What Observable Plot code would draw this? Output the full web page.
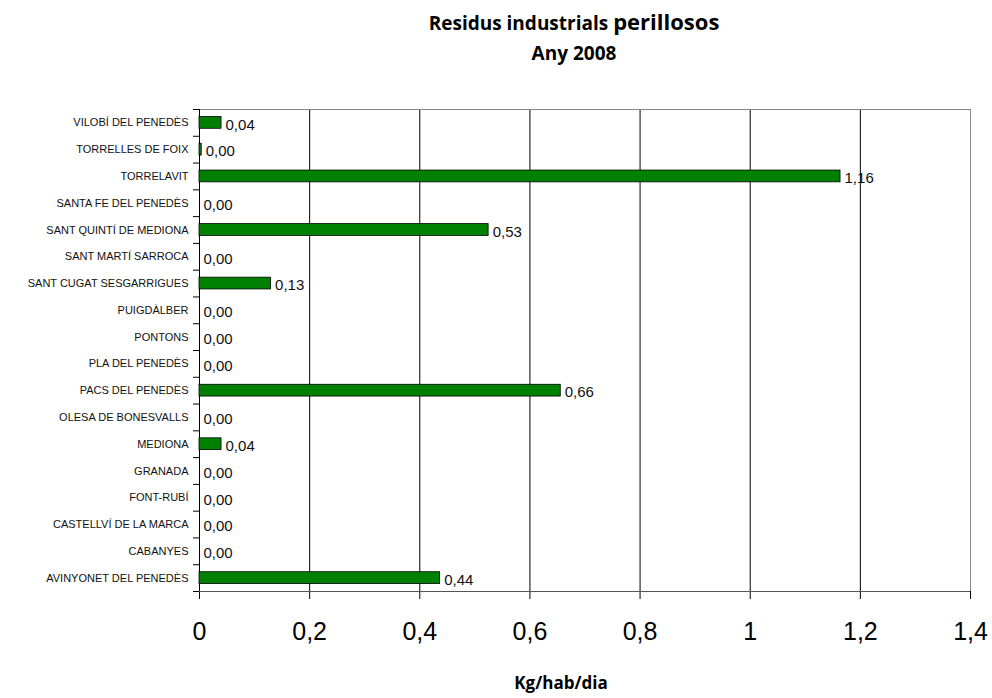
<!DOCTYPE html>
<html><head><meta charset="utf-8">
<script src="https://cdn.jsdelivr.net/npm/d3@7"></script>
<script src="https://cdn.jsdelivr.net/npm/@observablehq/plot@0.6"></script>
<style>
body{margin:0;background:#fff;width:992px;height:698px;overflow:hidden;font-family:"Liberation Sans",Arial,sans-serif}
#head{position:relative;height:70px}
#title{position:absolute;left:324px;top:6px;width:500px;text-align:center;font-family:"Open Sans",sans-serif;font-weight:bold;font-size:19px;line-height:30px;color:#000}
#title .big{font-size:22px}
svg{display:block}
</style></head>
<body>
<div id="head"><div id="title">Residus industrials <span class="big">perillosos</span><br>Any 2008</div></div>
<div id="chart"></div>
<script>
const municipis = ["VILOBÍ DEL PENEDÈS","TORRELLES DE FOIX","TORRELAVIT","SANTA FE DEL PENEDÈS","SANT QUINTÍ DE MEDIONA","SANT MARTÍ SARROCA","SANT CUGAT SESGARRIGUES","PUIGDÀLBER","PONTONS","PLA DEL PENEDÈS","PACS DEL PENEDÈS","OLESA DE BONESVALLS","MEDIONA","GRANADA","FONT-RUBÍ","CASTELLVÍ DE LA MARCA","CABANYES","AVINYONET DEL PENEDÈS"];
const valors = [0.04,0.004,1.164,0,0.525,0,0.13,0,0,0,0.656,0,0.04,0,0,0,0,0.437];
const xTicks = [0,0.2,0.4,0.6,0.8,1,1.2,1.4];
const unitat = "Kg/hab/dia";

const data = municipis.map((m,i)=>({m, i, v: valors[i]}));
const fmt = d => d.toFixed(2).replace(".", ",");
const fmtTick = d => String(d).replace(".", ",");
const sans = "'Liberation Sans', Arial, sans-serif";

const chart = Plot.plot({
  width: 992, height: 628,
  marginTop: 39, marginBottom: 107, marginLeft: 199, marginRight: 22,
  style: {fontFamily: sans, background: "#fff"},
  x: {domain: [0,1.4], ticks: xTicks},
  y: {domain: [0, municipis.length], reverse: true},
  marks: [
    Plot.gridX(xTicks.filter(d => d > 0 && d < 1.4), {stroke: "#000", strokeOpacity: 1, strokeWidth: 1}),
    Plot.frame({stroke: "#888"}),
    Plot.axisX({ticks: xTicks, tickSize: 8, tickPadding: 23, tickFormat: fmtTick, fontSize: 25, fontFamily: sans, label: null, stroke: "#000", color: "#000"}),
    Plot.axisY({ticks: d3.range(0, municipis.length + 1), tickSize: 6, tickFormat: () => "", label: null, stroke: "#000"}),
    Plot.ruleX([0], {stroke: "#000"}),
    Plot.ruleY([municipis.length], {stroke: "#555"}),
    Plot.rect(data.filter(d => d.v > 0), {x1: 0, x2: "v", y1: "i", y2: d => d.i + 1, insetTop: 7.5, insetBottom: 7.5, fill: "#008000", stroke: "#000", strokeWidth: 0.8}),
    Plot.text(data, {x: "v", y: d => d.i + 0.5, text: d => fmt(d.v), textAnchor: "start", dx: 4, dy: 2, fontSize: 15, fontFamily: sans, fill: "#111"}),
    Plot.text(data, {x: 0, y: d => d.i + 0.5, text: "m", textAnchor: "end", dx: -11, fontSize: 11, fontFamily: sans, fill: "#111"}),
    Plot.text([unitat], {frameAnchor: "bottom", text: d => d, dx: -24, dy: 97, fontSize: 17, fontWeight: "bold", fontFamily: "'Open Sans', sans-serif", fill: "#000"})
  ]
});
document.getElementById("chart").appendChild(chart);
</script>
</body></html>
